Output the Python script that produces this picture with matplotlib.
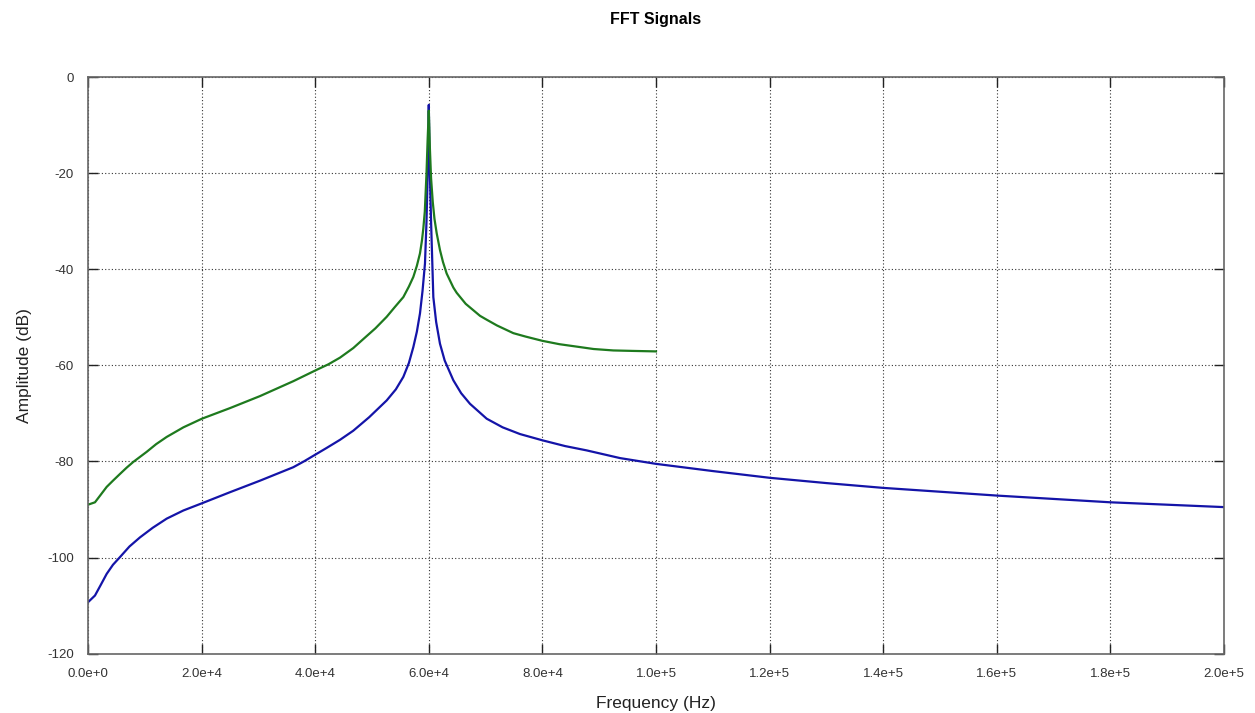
import matplotlib
matplotlib.use('Agg')
import matplotlib.pyplot as plt
from matplotlib.ticker import FuncFormatter

# values
green_freq = [0, 1232, 2200, 3290, 4400, 5634, 6800, 7975, 10335, 12000,
              13856, 16800, 20070, 25000, 30282, 36145, 40140, 42300, 44367,
              46710, 48600, 50600, 52590, 54000, 55520, 56500, 57280, 57900,
              58450, 58800, 59040, 59300, 59600, 59800, 60000, 60200, 60400,
              60700, 61000, 61390, 61970, 62500, 63150, 64320, 64910, 66500,
              69020, 70190, 72000, 74880, 77000, 80000, 83000, 86620, 89000,
              92480, 96000, 100000]
green_db = [-89.0, -88.5, -87.0, -85.3, -84.0, -82.6, -81.3, -80.1, -78.0, -76.4,
            -74.9, -72.9, -71.1, -68.9, -66.4, -63.3, -61.0, -59.8, -58.4,
            -56.4, -54.4, -52.3, -49.9, -47.9, -45.8, -43.6, -41.6, -39.3,
            -36.7, -34.0, -31.5, -28.0, -20.0, -13.0, -7.0, -15.0, -21.0,
            -26.0, -29.5, -32.5, -36.0, -38.5, -40.9, -43.8, -44.9, -47.2,
            -49.7, -50.5, -51.7, -53.3, -54.0, -54.9, -55.6, -56.2, -56.6,
            -56.9, -57.0, -57.1]

blue_freq = [0, 1232, 2200, 3290, 4400, 5634, 7300, 9155, 11400, 13856,
             16800, 20070, 25000, 30282, 36145, 38000, 40140, 42000, 44367,
             46710, 49500, 52590, 54200, 55520, 56500, 57280, 57900, 58450,
             58900, 59330, 59600, 59850, 60000, 60150, 60400, 60800, 61300,
             61970, 62800, 64320, 65700, 67250, 70190, 73000, 76060, 80000,
             84000, 87800, 93670, 100000, 110000, 120000, 130000, 140000,
             150000, 160000, 170000, 180000, 190000, 200000]
blue_db = [-109.3, -107.9, -105.8, -103.4, -101.5, -99.9, -97.7, -95.8, -93.8, -91.9,
           -90.2, -88.7, -86.4, -84.0, -81.2, -80.0, -78.5, -77.2, -75.5,
           -73.6, -70.8, -67.3, -65.0, -62.4, -59.5, -56.2, -53.0, -49.2,
           -44.5, -38.8, -30.0, -18.0, -5.8, -18.0, -30.0, -45.8, -51.0,
           -55.5, -59.0, -63.1, -65.8, -68.0, -71.1, -72.9, -74.3, -75.6,
           -76.8, -77.7, -79.3, -80.5, -82.0, -83.4, -84.5, -85.5,
           -86.3, -87.1, -87.8, -88.5, -89.0, -89.5]

x_ticks = [0, 20000, 40000, 60000, 80000, 100000, 120000, 140000, 160000, 180000, 200000]
y_ticks = [0, -20, -40, -60, -80, -100, -120]


def sci_label(v, pos):
    s = '%.1e' % v
    mant, exp = s.split('e')
    return '%se%s%d' % (mant, exp[0], abs(int(exp)))


plt.rcParams['font.family'] = ['Liberation Sans', 'DejaVu Sans']
plt.rcParams['axes.unicode_minus'] = False

fig = plt.figure(figsize=(12.55, 7.13), dpi=100)
ax = fig.add_axes([0.0701, 0.0832, 0.9052, 0.8088])

ax.plot(blue_freq, blue_db, color='#1414a8', lw=1.6)
ax.plot(green_freq, green_db, color='#1e7a1e', lw=1.6)

ax.set_xlim(0, 200000)
ax.set_ylim(-120, 0)
ax.set_xticks(x_ticks)
ax.set_yticks(y_ticks)
ax.xaxis.set_major_formatter(FuncFormatter(sci_label))
ax.grid(True, color='#333333', linestyle=(0, (1, 2)), linewidth=0.8)

ax.tick_params(direction='in', length=7, width=1, colors='#222222',
               labelcolor='#333333', labelsize=9.5, top=True, right=True)
ax.tick_params(axis='x', pad=10)
ax.tick_params(axis='y', pad=10)
for s in ax.spines.values():
    s.set_color('#666666')
    s.set_linewidth(1.2)

ax.set_xlabel('Frequency (Hz)', fontsize=12.5, color='#222222', labelpad=12)
ax.set_ylabel('Amplitude (dB)', fontsize=12.5, color='#222222', labelpad=11)
ax.set_title('FFT Signals', fontsize=11.5, fontweight='bold', pad=38)

plt.savefig('out.png', dpi=100)
